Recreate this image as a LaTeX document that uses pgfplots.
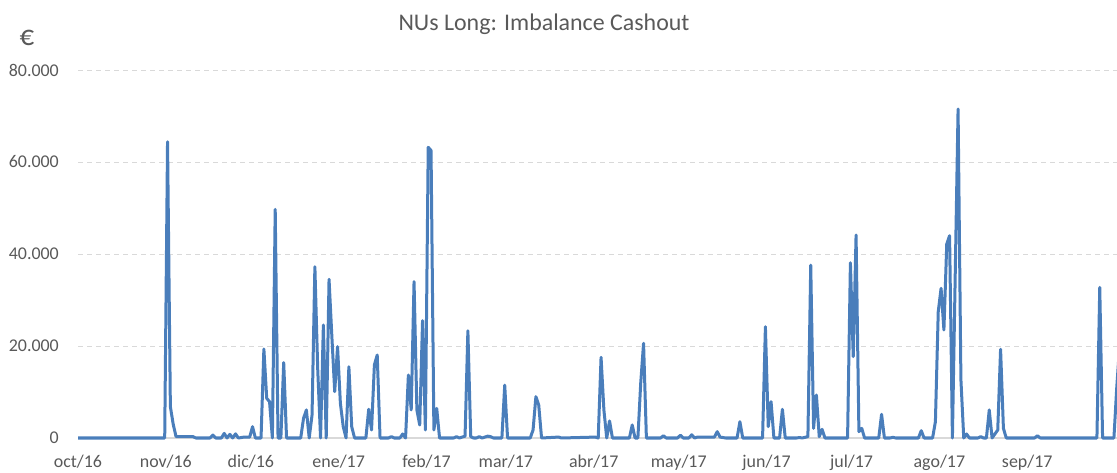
\documentclass[border=0pt]{standalone}
\usepackage{fontspec}
\setmainfont{Carlito}
\usepackage{pgfplots}
\pgfplotsset{compat=1.18}
\definecolor{linec}{HTML}{4A7EBB}
\definecolor{gridc}{HTML}{D9D9D9}
\definecolor{txt}{HTML}{595959}
\begin{document}
\begin{tikzpicture}
\useasboundingbox (0,0) rectangle (1117bp,473bp);
\begin{axis}[
  at={(78bp,35bp)}, anchor=south west,
  scale only axis, width=1039bp, height=368bp,
  xmin=-0.6, xmax=366.1, ymin=0, ymax=80000,
  clip=false,
  axis x line*=bottom, axis y line*=left,
  x axis line style={draw=gridc, line width=1.3bp, -},
  y axis line style={draw=none},
  tick style={draw=none},
  ymajorgrids,
  grid style={draw=gridc, line width=1bp, dash pattern=on 5bp off 4bp},
  ytick={0,20000,40000,60000,80000},
  scaled y ticks=false,
  /pgf/number format/1000 sep={.},
  /pgf/number format/assume math mode=true,
  ticklabel style={font=\fontsize{18}{20}\selectfont, text=txt},
  yticklabel style={anchor=east, inner sep=0pt, xshift=-19bp},
  xtick={-0.6,30.4,60.4,91.4,122.4,150.4,181.4,211.4,242.4,272.4,303.4,334.4},
  xticklabels={oct/16,nov/16,dic/16,ene/17,feb/17,mar/17,abr/17,may/17,jun/17,jul/17,ago/17,sep/17},
  xticklabel style={anchor=north, inner sep=0pt, yshift=-17bp},
]
\addplot[linec, line width=3bp, line join=round, mark=none] coordinates {
(-0.6,0) (30,0) (31,64400) (32,6800) (33,3000) (34,300) (40,300) (41,0)
(46,0) (47,650) (48,0) (50,0) (51,1000) (52,0) (53,800) (54,0) (55,900) (56,0)
(58,200) (60,200) (61,2460) (62,0) (64,0)
(65,19350) (66,8630) (67,7900) (68,0) (69,49700) (70,0) (71,0) (72,16400) (73,0)
(78,0) (79,4280) (80,6100) (81,0) (82,5000) (83,37240) (84,15000) (85,0)
(86,24570) (87,0) (88,34500) (89,22000) (90,10070) (91,19850) (92,7540)
(93,2500) (94,0) (95,15500) (96,2460) (97,0)
(101,0) (102,6240) (103,1740) (104,15870) (105,18040) (106,0)
(109,0) (110,300) (111,0) (113,0) (114,870) (115,0)
(116,13700) (117,6090) (118,34000) (119,6090) (120,2830) (121,25500) (122,1740)
(123,63200) (124,62500) (125,1740) (126,6450) (127,0)
(132,0) (133,300) (134,0) (136,400) (137,23300) (138,300) (139,0) (140,0)
(141,300) (142,0) (144,400) (145,300) (146,0)
(149,0) (150,11500) (151,0)
(159,0) (160,1740) (161,8980) (162,7170) (163,0) (169,200) (170,0)
(182,200) (183,0) (184,17540) (185,6090) (186,0) (187,3700) (188,0)
(194,0) (195,2830) (196,0) (197,0) (198,12000) (199,20580) (200,0)
(205,0) (206,500) (207,0) (211,0) (212,600) (213,0) (215,0) (216,700) (217,0)
(218,200) (224,200) (225,1380) (226,200) (228,0) (232,0) (233,3550) (234,0)
(241,0) (242,24200) (243,2460) (244,7900) (245,0) (247,0) (248,6240) (249,0)
(253,0) (254,100) (255,0) (257,300)
(258,37600) (259,2100) (260,9350) (261,300) (262,1890) (263,0)
(271,0) (272,38100) (273,17680) (274,44130) (275,1380) (276,2100) (277,0)
(282,0) (283,5150) (284,0) (286,0) (287,150) (288,0)
(296,0) (297,1590) (298,0) (301,0) (302,3550) (303,27460) (304,32540)
(305,23480) (306,42170) (307,43980) (308,0) (310,71520) (311,12700) (312,0)
(313,870) (314,0) (317,0) (318,300) (319,0) (320,0) (321,6090) (322,0)
(324,1740) (325,19280) (326,2100) (327,0) (337,0) (338,500) (339,0)
(359,0) (360,32760) (361,0) (365,0) (366,11000) (367,20000)
};
\end{axis}
\node[font=\fontsize{24}{28}\selectfont, text=txt] at (544bp,449bp) {NUs Long: Imbalance Cashout};
\node[font=\fontsize{29}{31}\selectfont, text=txt] at (27bp,435bp) {€};
\end{tikzpicture}
\end{document}
